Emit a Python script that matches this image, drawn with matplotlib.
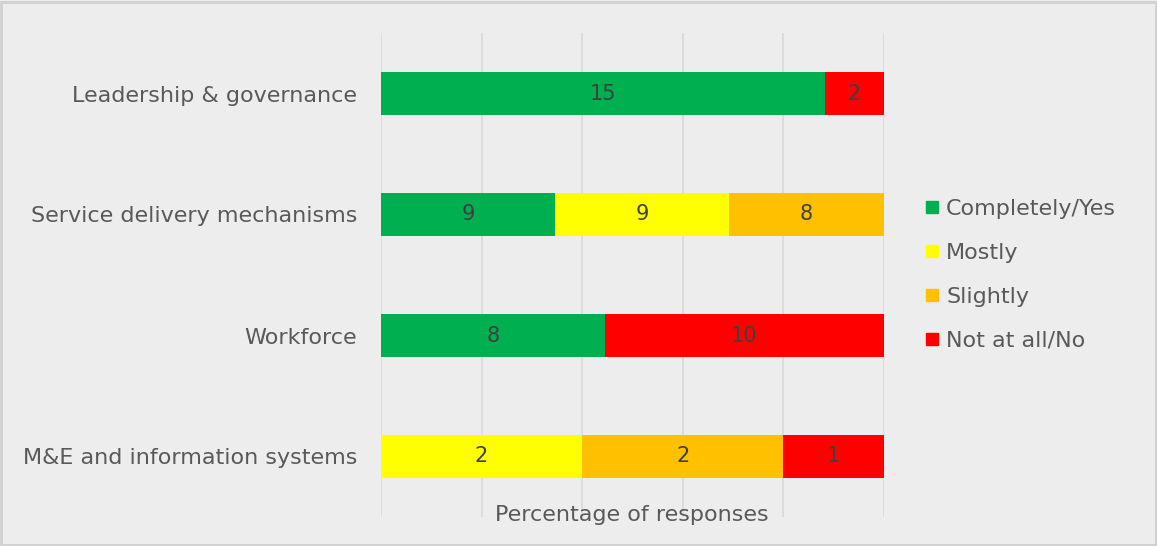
import matplotlib
matplotlib.use("Agg")
import matplotlib.pyplot as plt
from matplotlib.patches import Rectangle
from matplotlib.lines import Line2D

categories = ["Leadership & governance", "Service delivery mechanisms",
              "Workforce", "M&E and information systems"]
series_names = ["Completely/Yes", "Mostly", "Slightly", "Not at all/No"]
completely = [15, 9, 8, 0]
mostly = [0, 9, 0, 2]
slightly = [0, 8, 0, 2]
not_at_all = [2, 0, 10, 1]
colors = ["#00B050", "#FFFF00", "#FFC000", "#FF0000"]

bg = "#EDEDED"
text_col = "#595959"
label_col = "#404040"
grid_col = "#D9D9D9"
fs = 16

fig = plt.figure(figsize=(11.57, 5.46), dpi=100, facecolor=bg)
fig.patches.append(Rectangle((0.001, 0.002), 0.998, 0.994, transform=fig.transFigure,
                             fill=False, edgecolor="#D0D0D0", linewidth=2.0))

ax = fig.add_axes([381 / 1157, 1 - 517 / 546, 503 / 1157, 484 / 546])
ax.set_facecolor(bg)

series = [completely, mostly, slightly, not_at_all]
totals = [sum(v) for v in zip(*series)]
ypos = list(range(len(categories)))
left = [0.0] * len(categories)
for name, vals, col in zip(series_names, series, colors):
    pct = [v / t * 100 for v, t in zip(vals, totals)]
    ax.barh(ypos, pct, left=left, height=0.355, color=col, label=name, zorder=3)
    for i, (v, p) in enumerate(zip(vals, pct)):
        if v > 0:
            ax.text(left[i] + p / 2, ypos[i], str(v), ha="center", va="center",
                    fontsize=15, color=label_col, zorder=4)
    left = [l + p for l, p in zip(left, pct)]

ax.set_xlim(0, 100)
ax.set_ylim(3.5, -0.5)
ax.set_xticks([0, 20, 40, 60, 80, 100])
ax.xaxis.grid(True, color=grid_col, linewidth=1.2, zorder=0)
ax.tick_params(axis="x", length=0, labelbottom=False)
ax.tick_params(axis="y", length=0, pad=17, labelsize=fs, labelcolor=text_col)
ax.set_yticks(ypos)
ax.set_yticklabels(categories)
for s in ax.spines.values():
    s.set_visible(False)

fig.text(632 / 1157, 1 - 515 / 546, "Percentage of responses", ha="center", va="center",
         fontsize=fs, color=text_col)

handles = [Line2D([], [], marker="s", linestyle="none", markersize=9,
                  markerfacecolor=c, markeredgecolor=c) for c in colors]
fig.legend(handles, series_names, loc="center left",
           bbox_to_anchor=(916 / 1157, 1 - 275 / 546), frameon=False,
           fontsize=fs, labelcolor=text_col, handlelength=0.6, handletextpad=0.35,
           labelspacing=1.08, borderaxespad=0)

fig.savefig("out.png", dpi=100, facecolor=bg)
